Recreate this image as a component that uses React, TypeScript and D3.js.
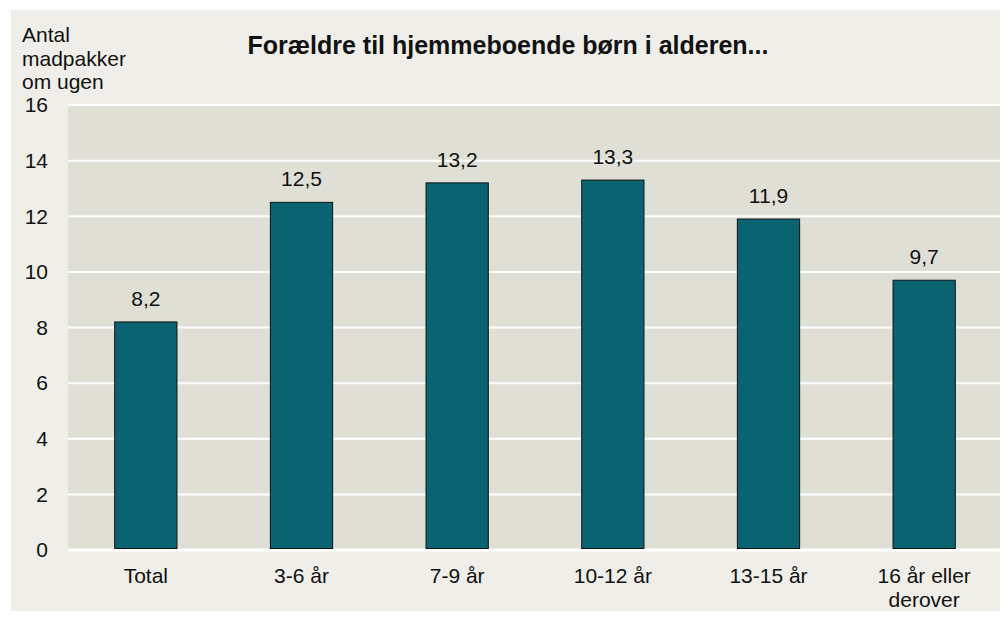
import React, { useEffect, useRef } from 'react';
import * as d3 from 'd3';

const categories = [['Total'], ['3-6 år'], ['7-9 år'], ['10-12 år'], ['13-15 år'], ['16 år eller', 'derover']];
const values = [8.2, 12.5, 13.2, 13.3, 11.9, 9.7];
const yTicks = [0, 2, 4, 6, 8, 10, 12, 14, 16];
const yLabel = ['Antal', 'madpakker', 'om ugen'];
const title = 'Forældre til hjemmeboende børn i alderen...';

const App = () => {
  const ref = useRef(null);

  useEffect(() => {
    const W = 1008, H = 619;
    const margin = { top: 105, right: 6, bottom: 69, left: 68 };
    const width = W - margin.left - margin.right;
    const height = H - margin.top - margin.bottom;
    const font = 'Liberation Sans, Arial, sans-serif';

    d3.select(ref.current).selectAll('*').remove();
    const svg = d3.select(ref.current)
      .append('svg')
      .attr('width', W)
      .attr('height', H)
      .style('display', 'block')
      .style('font-family', font);

    svg.append('rect').attr('width', W).attr('height', H).attr('fill', '#ffffff');
    svg.append('rect').attr('x', 11).attr('y', 10).attr('width', W - 11).attr('height', H - 10).attr('fill', '#efeee8');

    const g = svg.append('g').attr('transform', `translate(${margin.left},${margin.top})`);

    const x = d3.scaleBand().domain(categories.map((c) => c.join(' '))).range([0, width]).paddingInner(0.6).paddingOuter(0.3);
    const y = d3.scaleLinear().domain([0, 16]).range([height, 0]);

    g.append('rect').attr('width', width).attr('height', height).attr('fill', '#e0dfd5');

    // gridlines
    g.selectAll('.grid')
      .data(yTicks)
      .enter().append('line')
      .attr('x1', 0).attr('x2', width)
      .attr('y1', (d) => y(d)).attr('y2', (d) => y(d))
      .attr('stroke', '#ffffff')
      .attr('stroke-width', (d) => (d === 0 ? 3 : 2));

    // y tick labels
    g.selectAll('.ytick')
      .data(yTicks)
      .enter().append('text')
      .attr('x', -20)
      .attr('y', (d) => y(d))
      .attr('dy', '0.35em')
      .attr('text-anchor', 'end')
      .style('font-size', '21px')
      .style('fill', '#111')
      .text((d) => d);

    // bars
    g.selectAll('.bar')
      .data(values)
      .enter().append('rect')
      .attr('x', (d, i) => x(categories[i].join(' ')))
      .attr('y', (d) => y(d))
      .attr('width', x.bandwidth())
      .attr('height', (d) => height - 1.5 - y(d))
      .attr('fill', '#0a6370')
      .attr('stroke', '#111')
      .attr('stroke-width', 1);

    // value labels
    g.selectAll('.val')
      .data(values)
      .enter().append('text')
      .attr('x', (d, i) => x(categories[i].join(' ')) + x.bandwidth() / 2)
      .attr('y', (d) => y(d) - 16)
      .attr('text-anchor', 'middle')
      .style('font-size', '21px')
      .style('fill', '#111')
      .text((d) => d.toFixed(1).replace('.', ','));

    // x labels
    categories.forEach((c, i) => {
      const cx = x(c.join(' ')) + x.bandwidth() / 2;
      const t = g.append('text')
        .attr('x', cx)
        .attr('y', height + 33)
        .attr('text-anchor', 'middle')
        .style('font-size', '21px')
        .style('fill', '#111');
      c.forEach((line, j) => {
        t.append('tspan').attr('x', cx).attr('dy', j === 0 ? 0 : 24).text(line);
      });
    });

    // y axis title
    const yl = svg.append('text').attr('x', 22).attr('y', 42).style('font-size', '21px').style('fill', '#111');
    yLabel.forEach((line, j) => {
      yl.append('tspan').attr('x', 22).attr('dy', j === 0 ? 0 : 23.5).text(line);
    });

    svg.append('text')
      .attr('x', 508)
      .attr('y', 54)
      .attr('text-anchor', 'middle')
      .style('font-size', '25px')
      .style('font-weight', 'bold')
      .style('fill', '#111')
      .text(title);
  }, []);

  return <div ref={ref} style={{ margin: -8 }} />;
};

export default App;
